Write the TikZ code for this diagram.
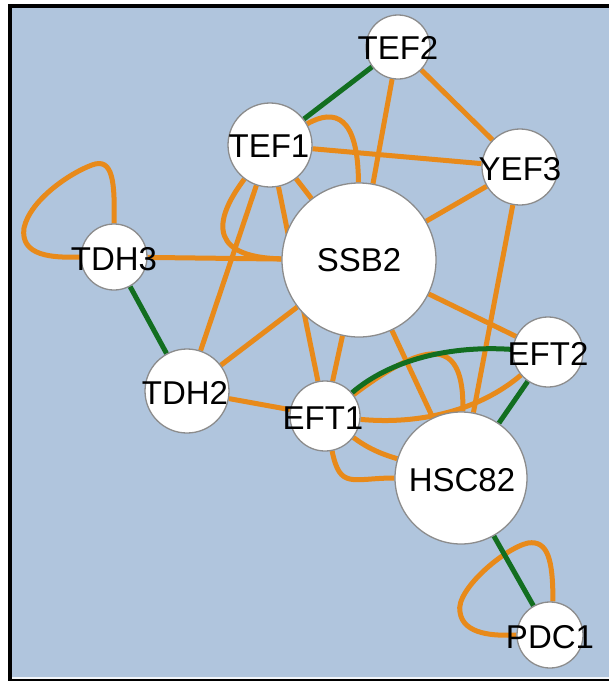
\documentclass[tikz,border=0pt]{standalone}
\usepackage{fontspec}
\setmainfont{Liberation Sans}
\definecolor{bgblue}{RGB}{176,197,221}
\definecolor{edgeorange}{RGB}{232,138,26}
\definecolor{edgegreen}{RGB}{18,110,32}
\definecolor{nodegray}{RGB}{140,140,140}
\pgfdeclarelayer{bglayer}
\pgfdeclarelayer{edgelayer}
\pgfsetlayers{bglayer,edgelayer,main}
\begin{document}
\begin{tikzpicture}[x=1pt,y=-1pt,
  gene/.style={circle,draw=nodegray,line width=1.3pt,fill=white,inner sep=0pt,minimum size=#1},
  lbl/.style={font=\fontsize{33}{33}\selectfont,text=black,inner sep=0pt},
  oe/.style={draw=edgeorange,line width=5pt},
  ge/.style={draw=edgegreen,line width=5pt}]
\useasboundingbox (0,0) rectangle (609,681);
\begin{pgfonlayer}{bglayer}
  \fill[white] (0,0) rectangle (609,681);
  \fill[black] (8,4) rectangle (609,681);
  \fill[bgblue] (12,8) rectangle (609,677);
  \fill[white!85!bgblue] (12,677) rectangle (609,679);
\end{pgfonlayer}
% nodes
\node[gene=64pt]  (TEF2)  at (398,47)  {};
\node[gene=84pt]  (TEF1)  at (270,145) {};
\node[gene=76pt]  (YEF3)  at (520,167) {};
\node[gene=154pt] (SSB2)  at (359,260) {};
\node[gene=66pt]  (TDH3)  at (114,257) {};
\node[gene=84pt]  (TDH2)  at (187,391) {};
\node[gene=70pt]  (EFT1)  at (325,416) {};
\node[gene=70pt]  (EFT2)  at (548,352) {};
\node[gene=132pt] (HSC82) at (461,478) {};
\node[gene=66pt]  (PDC1)  at (550,635) {};
% labels
\node[lbl] (lTEF2)  at (398,48)  {TEF2};
\node[lbl] (lTEF1)  at (269,146) {TEF1};
\node[lbl] (lYEF3)  at (520,169) {YEF3};
\node[lbl] (lSSB2)  at (359,260) {SSB2};
\node[lbl] (lTDH3)  at (114,259) {TDH3};
\node[lbl] (lTDH2)  at (185,393) {TDH2};
\node[lbl] (lEFT1)  at (323,418) {EFT1};
\node[lbl] (lEFT2)  at (548,354) {EFT2};
\node[lbl] (lHSC82) at (462,480) {HSC82};
\node[lbl] (lPDC1)  at (550,637) {PDC1};
% edges
\begin{pgfonlayer}{edgelayer}
  \draw[oe] (TEF2) -- (SSB2);
  \draw[oe] (TEF2) -- (YEF3);
  \draw[oe] (TEF1) -- (YEF3);
  \draw[oe] (TEF1) -- (SSB2);
  \draw[oe] (TEF1) .. controls (335,108) and (358,116) .. (SSB2);
  \draw[oe] (TEF1) .. controls (200,238) and (230,258) .. (SSB2);
  \draw[oe] (TEF1) -- (TDH2);
  \draw[oe] (TEF1) -- (EFT1);
  \draw[oe] (TDH3.north) .. controls (115,182) and (113,157) .. (92,165)
            .. controls (70,173) and (30,200) .. (24,228)
            .. controls (20,256) and (52,258) .. (TDH3.west);
  \draw[oe] (TDH3) -- (SSB2);
  \draw[oe] (TDH2) -- (SSB2);
  \draw[oe] (TDH2) -- (EFT1);
  \draw[oe] (SSB2) -- (EFT1);
  \draw[oe] (SSB2) -- (YEF3);
  \draw[oe] (SSB2) -- (EFT2);
  \draw[oe] (SSB2) -- (HSC82);
  \draw[oe] (YEF3) -- (HSC82);
  \draw[oe] (EFT1) .. controls (420,345) and (465,330) .. (HSC82);
  \draw[oe] (EFT1) .. controls (420,425) and (480,410) .. (EFT2);
  \draw[oe] (EFT1) .. controls (370,450) and (385,455) .. (HSC82);
  \draw[oe] (EFT1) .. controls (340,490) and (352,478) .. (HSC82);
  \draw[oe] (PDC1.85) .. controls (553,560) and (548,540) .. (528,543)
            .. controls (505,548) and (455,590) .. (460,612)
            .. controls (463,635) and (495,636) .. (PDC1.west);
  \draw[ge] (TEF2) -- (TEF1);
  \draw[ge] (TDH3) -- (TDH2);
  \draw[ge] (EFT1) .. controls (390,360) and (450,345) .. (EFT2);
  \draw[ge] (EFT2) -- (HSC82);
  \draw[ge] (HSC82) -- (PDC1);
\end{pgfonlayer}
\end{tikzpicture}
\end{document}
